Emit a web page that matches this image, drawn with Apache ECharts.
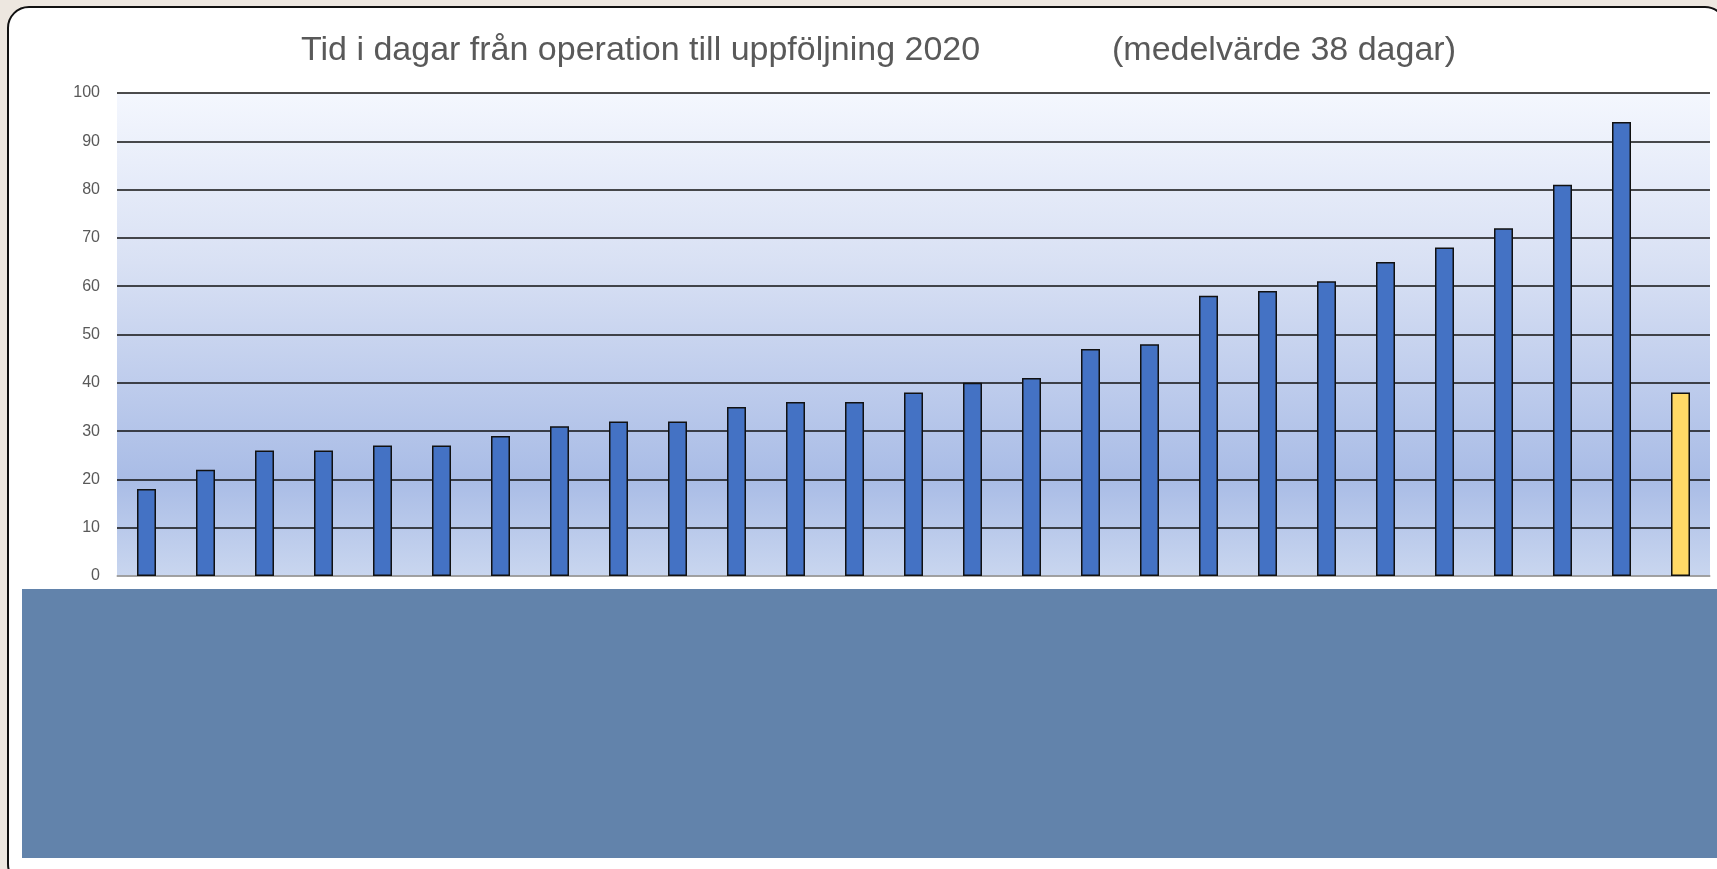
<!DOCTYPE html>
<html>
<head>
<meta charset="utf-8">
<script src="https://cdn.jsdelivr.net/npm/echarts@6/dist/echarts.min.js"></script>
<style>
  html, body { margin: 0; padding: 0; background: #ede7e0; }
  #wrap { position: relative; width: 1717px; height: 869px; overflow: hidden; background: #ede7e0; }
  #frame { position: absolute; left: 7px; top: 6px; width: 1720px; height: 880px;
           background: #fff; border: 2px solid #111; border-radius: 22px; box-sizing: border-box; }
  #chart { position: absolute; left: 0; top: 0; width: 1717px; height: 869px; }
</style>
</head>
<body>
<div id="wrap">
  <div id="frame"></div>
  <div id="chart"></div>
</div>
<script>
// kategorier (etiketterna är dolda under den blå rutan i originalet)
var categories = ['1','2','3','4','5','6','7','8','9','10','11','12','13','14','15','16','17','18','19','20','21','22','23','24','25','26','Medel'];
var days = [18, 22, 26, 26, 27, 27, 29, 31, 32, 32, 35, 36, 36, 38, 40, 41, 47, 48, 58, 59, 61, 65, 68, 72, 81, 94, 38];
var meanIndex = 26;
var yTicks = { min: 0, max: 100, interval: 10 };

var chart = echarts.init(document.getElementById('chart'));

var barData = days.map(function (v, i) {
  if (i === meanIndex) {
    return { value: v, itemStyle: { color: '#ffd966' } };
  }
  return v;
});

var titleStyle = { fontFamily: 'Liberation Sans', fontWeight: 'normal', fontSize: 34, color: '#595959' };

var option = {
  backgroundColor: 'transparent',
  animation: false,
  title: [
    { text: 'Tid i dagar från operation till uppföljning 2020', left: 296, top: 29, textStyle: titleStyle },
    { text: '(medelvärde 38 dagar)', left: 1107, top: 29, textStyle: titleStyle }
  ],
  grid: {
    left: 117, right: 7, top: 93, bottom: 293,
    show: true,
    borderWidth: 0,
    backgroundColor: new echarts.graphic.LinearGradient(0, 0, 0, 1, [
      { offset: 0, color: '#f4f7fe' },
      { offset: 0.35, color: '#d9e1f4' },
      { offset: 0.8, color: '#a9bce6' },
      { offset: 1, color: '#c9d6ef' }
    ])
  },
  xAxis: {
    type: 'category',
    data: categories,
    axisTick: { show: false },
    axisLabel: { show: false },
    axisLine: { lineStyle: { color: '#bfbfbf', width: 1.5 } }
  },
  yAxis: {
    type: 'value',
    min: yTicks.min, max: yTicks.max, interval: yTicks.interval,
    axisLine: { show: false },
    axisTick: { show: false },
    axisLabel: { color: '#595959', fontSize: 16, fontFamily: 'Liberation Sans', margin: 17 },
    splitLine: { lineStyle: { color: '#111', width: 1.6 } }
  },
  series: [
    {
      type: 'bar',
      data: barData,
      barWidth: 19,
      itemStyle: { color: '#4472c4', borderColor: '#111', borderWidth: 1.5 }
    }
  ],
  graphic: [
    {
      type: 'rect',
      z: 100,
      shape: { x: 22, y: 589, width: 1700, height: 269 },
      style: { fill: '#6283ab' }
    }
  ]
};

chart.setOption(option);
</script>
</body>
</html>
